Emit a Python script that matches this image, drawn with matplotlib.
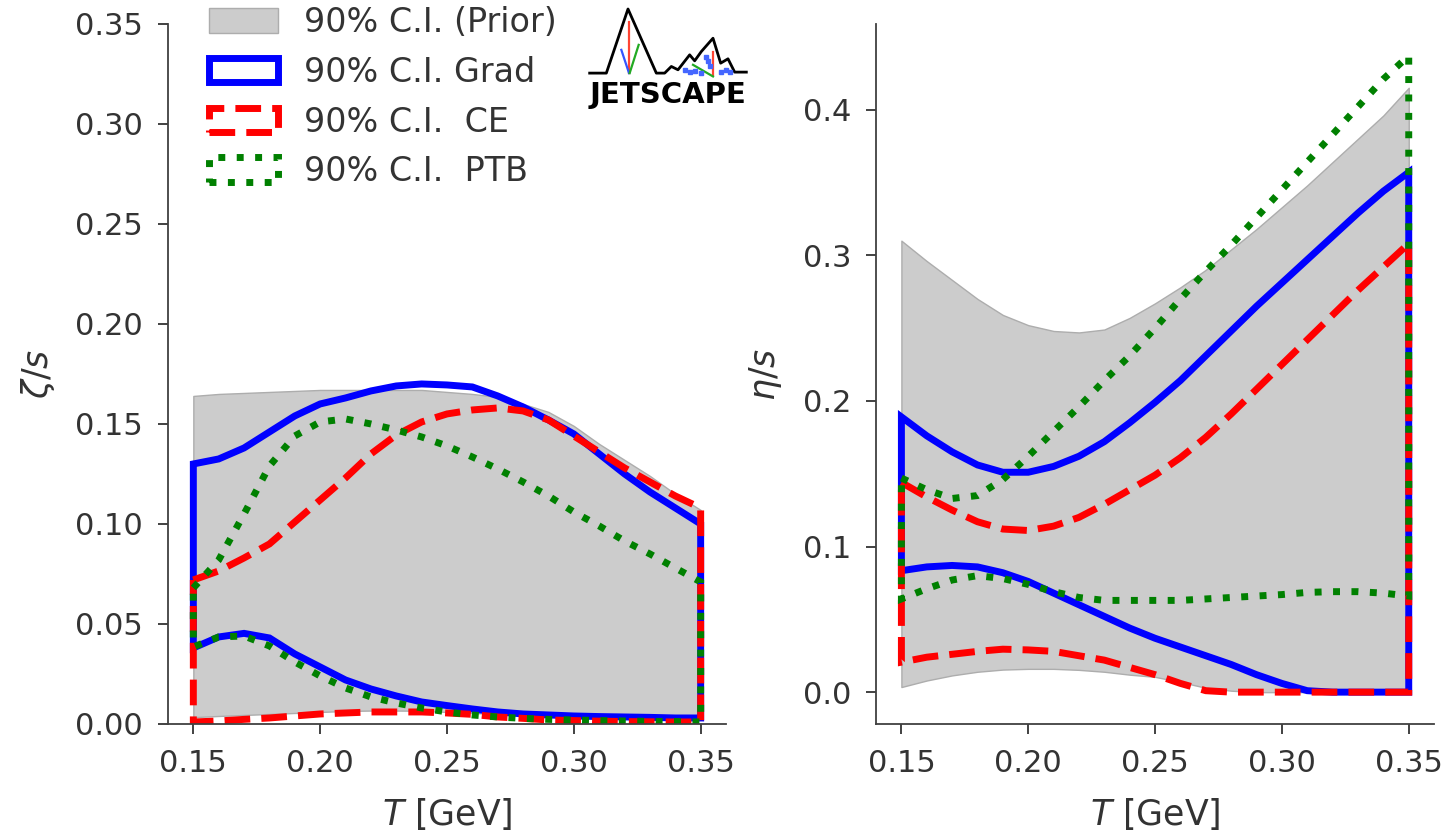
import numpy as np
import matplotlib
matplotlib.use("Agg")
import matplotlib.pyplot as plt

# temperature grid (GeV)
T = [0.15, 0.16, 0.17, 0.18, 0.19, 0.20, 0.21, 0.22, 0.23, 0.24, 0.25,
     0.26, 0.27, 0.28, 0.29, 0.30, 0.31, 0.32, 0.33, 0.34, 0.35]

# zeta/s bands
zeta_prior_hi = [.164, .165, .1655, .166, .1665, .167, .167, .167, .167, .167, .166,
                 .165, .1635, .160, .156, .149, .140, .132, .124, .115, .107]
zeta_prior_lo = [.0034, .004, .0045, .005, .0055, .006, .0065, .0067, .0067, .0066, .006,
                 .0055, .005, .0045, .004, .0035, .003, .003, .0028, .0026, .0025]
zeta_grad_hi = [.130, .1325, .138, .146, .154, .160, .163, .1665, .169, .170, .1695,
                .1685, .164, .1585, .152, .145, .135, .125, .116, .108, .100]
zeta_grad_lo = [.038, .0435, .0453, .043, .035, .0285, .022, .0175, .014, .011, .0092,
                .0075, .006, .005, .0045, .004, .0037, .0035, .0033, .003, .003]
zeta_ce_hi = [.072, .0765, .083, .090, .101, .112, .123, .135, .1445, .151, .155,
              .157, .158, .1565, .152, .144, .136, .128, .121, .114, .108]
zeta_ce_lo = [.001, .0015, .0023, .003, .004, .005, .0055, .006, .006, .006, .0055,
              .0048, .0035, .0028, .002, .0017, .0014, .0012, .0011, .001, .001]
zeta_ptb_hi = [.068, .082, .105, .129, .144, .151, .1525, .150, .147, .1435, .139,
               .1335, .1275, .121, .114, .106, .099, .0915, .085, .078, .071]
zeta_ptb_lo = [.0385, .0435, .044, .039, .031, .024, .018, .0135, .0105, .008, .006,
               .0045, .0035, .0028, .0023, .002, .0017, .0015, .0013, .0012, .001]

# eta/s bands
eta_prior_hi = [.310, .296, .283, .270, .259, .252, .248, .247, .249, .257, .267,
                .278, .290, .304, .318, .333, .348, .364, .380, .396, .415]
eta_prior_lo = [.0035, .008, .0115, .014, .0155, .016, .016, .0153, .014, .012, .0105,
                .007, .003, .001, 0, 0, 0, 0, 0, 0, 0]
eta_grad_hi = [.189, .176, .165, .156, .151, .151, .155, .162, .172, .185, .199,
               .214, .231, .248, .265, .281, .297, .313, .329, .344, .357]
eta_grad_lo = [.0834, .086, .087, .086, .082, .076, .068, .060, .052, .044, .037,
               .031, .025, .019, .012, .006, .001, 0, 0, 0, 0]
eta_ce_hi = [.144, .134, .125, .117, .112, .111, .114, .120, .129, .139, .149,
             .161, .175, .191, .208, .225, .242, .259, .276, .292, .308]
eta_ce_lo = [.0206, .024, .026, .028, .0295, .029, .028, .025, .022, .017, .012,
             .006, .001, 0, 0, 0, 0, 0, 0, 0, 0]
eta_ptb_hi = [.147, .139, .133, .135, .146, .162, .179, .196, .214, .231, .250,
              .270, .289, .307, .326, .345, .364, .383, .402, .421, .437]
eta_ptb_lo = [.064, .071, .077, .080, .078, .074, .069, .065, .063, .063, .063,
              .063, .064, .065, .066, .067, .0685, .069, .069, .068, .066]

labels = ['90% C.I. (Prior)', '90% C.I. Grad', '90% C.I.  CE', '90% C.I.  PTB']
x_ticks = [0.15, 0.20, 0.25, 0.30, 0.35]

plt.rcParams['font.family'] = 'DejaVu Sans'
plt.rcParams['text.color'] = '0.2'
plt.rcParams['axes.labelcolor'] = '0.2'
plt.rcParams['xtick.color'] = '0.2'
plt.rcParams['ytick.color'] = '0.2'
plt.rcParams['axes.edgecolor'] = '0.25'


def band(ax, lo, hi, color, ls, label):
    x = np.concatenate([T, T[::-1]])
    y = np.concatenate([hi, lo[::-1]])
    ax.fill(x, y, fill=False, edgecolor=color, lw=5, ls=ls, label=label)


def panel(ax, prior, grad, ce, ptb, ylabel):
    ax.fill_between(T, prior[0], prior[1], facecolor='0.8', edgecolor='0.68', lw=1,
                    label=labels[0])
    band(ax, grad[0], grad[1], 'blue', '-', labels[1])
    band(ax, ce[0], ce[1], 'red', '--', labels[2])
    band(ax, ptb[0], ptb[1], 'green', ':', labels[3])
    ax.set_xticks(x_ticks)
    ax.set_xticklabels(['%.2f' % v for v in x_ticks])
    ax.set_xlabel('$T$ [GeV]', fontsize=25, labelpad=13)
    ax.set_ylabel(ylabel, fontsize=25, labelpad=13)
    ax.tick_params(labelsize=22, length=7, width=1.3, pad=11)
    for s in ['top', 'right']:
        ax.spines[s].set_visible(False)
    for s in ['left', 'bottom']:
        ax.spines[s].set_linewidth(1.3)


T = np.array(T)
fig = plt.figure(figsize=(14.48, 8.31), dpi=100)
ax1 = fig.add_axes([0.116, 0.1288, 0.3854, 0.8424])
ax2 = fig.add_axes([0.605, 0.1288, 0.3854, 0.8424])

panel(ax1, (np.array(zeta_prior_lo), np.array(zeta_prior_hi)),
      (np.array(zeta_grad_lo), np.array(zeta_grad_hi)),
      (np.array(zeta_ce_lo), np.array(zeta_ce_hi)),
      (np.array(zeta_ptb_lo), np.array(zeta_ptb_hi)), r'$\zeta/s$')
ax1.set_ylim(0, 0.35)
zt = np.arange(0, 0.36, 0.05)
ax1.set_yticks(zt)
ax1.set_yticklabels(['%.2f' % v for v in zt])

panel(ax2, (np.array(eta_prior_lo), np.array(eta_prior_hi)),
      (np.array(eta_grad_lo), np.array(eta_grad_hi)),
      (np.array(eta_ce_lo), np.array(eta_ce_hi)),
      (np.array(eta_ptb_lo), np.array(eta_ptb_hi)), r'$\eta/s$')
ax2.set_yticks([0.0, 0.1, 0.2, 0.3, 0.4])

ax1.legend(loc='upper left', bbox_to_anchor=(0.1326, 1.0126), bbox_transform=fig.transFigure,
           frameon=False, fontsize=24, borderpad=0, handlelength=2.07, handleheight=0.75,
           labelspacing=0.5, handletextpad=0.78)

# JETSCAPE logo (simple line sketch)
lg = fig.add_axes([588 / 1448, 1 - 108 / 831, 160 / 1448, 103 / 831])
lg.set_xlim(80, 560)
lg.set_ylim(320, 10)
lg.axis('off')
mx = [85, 135, 200, 285, 310, 330, 350, 385, 400, 420, 455, 478, 500, 520, 555]
my = [215, 215, 22, 215, 215, 195, 205, 160, 178, 150, 110, 185, 172, 212, 212]
lg.plot(mx, my, color='black', lw=2)
lg.plot([203, 203], [60, 215], color='#ff4433', lw=1.6)
lg.plot([180, 203], [145, 215], color='#3355ff', lw=1.6)
lg.plot([205, 232], [215, 130], color='#22aa22', lw=1.6)
lg.plot([455, 455], [150, 222], color='#ff4433', lw=1.6)
lg.plot([395, 455], [190, 225], color='#22aa22', lw=1.6)
lg.plot([370, 385, 400, 420, 435, 440, 445, 480, 495, 505],
        [205, 212, 208, 214, 165, 180, 195, 212, 205, 213], ls='none',
        marker='s', ms=2.2, color='#4466ff')
lg.text(320, 282, 'JETSCAPE', ha='center', va='center', fontsize=21,
        fontweight='heavy', color='black')

fig.savefig('out.png', dpi=100)
